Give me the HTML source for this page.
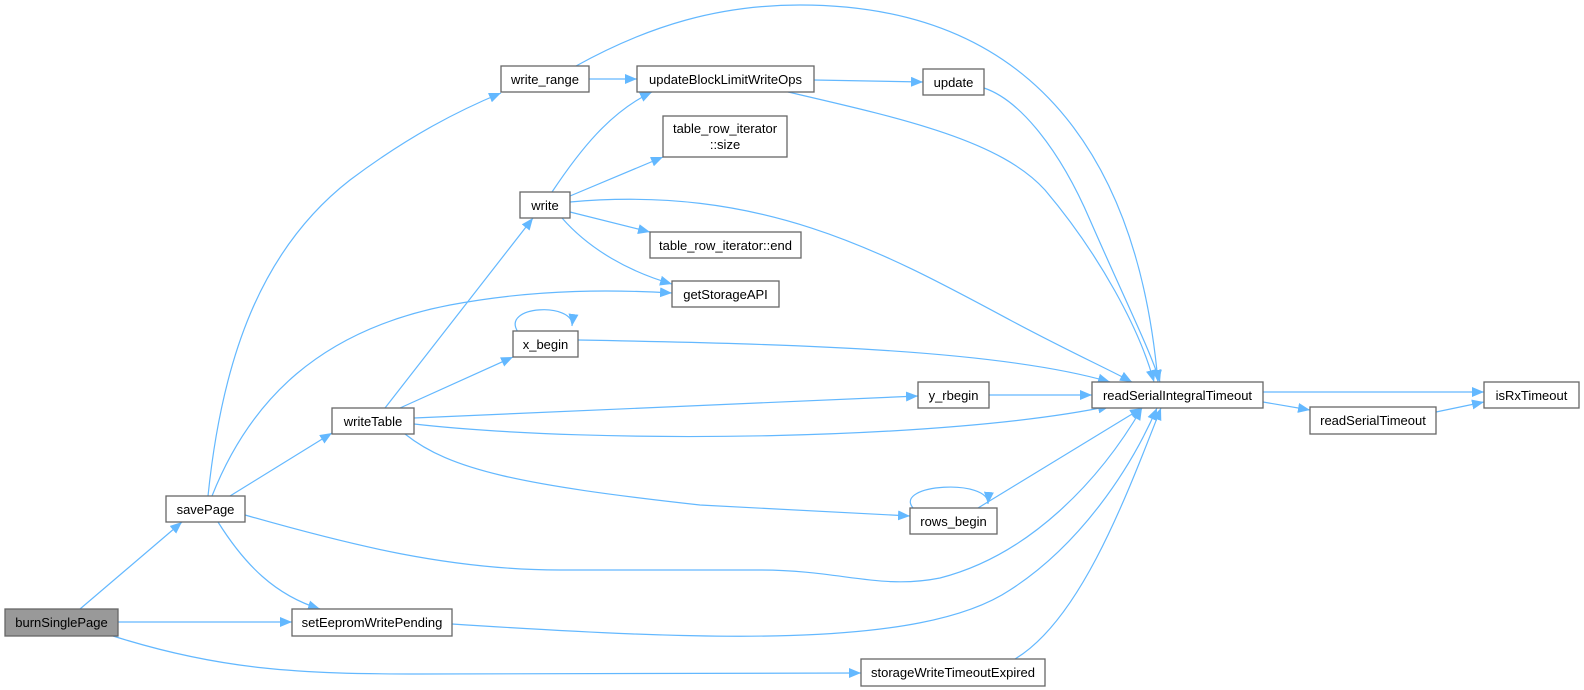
<!DOCTYPE html>
<html><head><meta charset="utf-8"><style>
html,body{margin:0;padding:0;background:#fff;}
svg{display:block;}
text{font-family:"Liberation Sans",Arial,sans-serif;font-size:13px;fill:#000;}
.n{fill:#fff;stroke:#666;stroke-width:1.3;}
.e{fill:none;stroke:#63b8ff;stroke-width:1.2;marker-end:url(#a);}
</style></head><body>
<svg width="1584" height="690" viewBox="0 0 1584 690" xmlns="http://www.w3.org/2000/svg">
<defs><marker id="a" markerUnits="userSpaceOnUse" markerWidth="14" markerHeight="12" refX="12" refY="5" orient="auto"><path d="M0,0 L12,5 L0,10 z" fill="#63b8ff"/></marker></defs>
<g>
<path class="e" d="M80,609 L182,522"/>
<path class="e" d="M118,622 L292,622"/>
<path class="e" d="M113,636 C220,670 300,674 420,674 L861,673"/>
<path class="e" d="M208,496 C222,360 260,250 350,180 C410,135 460,110 501,93"/>
<path class="e" d="M212,496 C250,400 320,330 450,305 C540,288 620,290 672,293"/>
<path class="e" d="M230,496 L332,433"/>
<path class="e" d="M245,515 C350,545 450,570 560,570 L760,570 C840,570 880,590 940,578 C1030,555 1100,480 1142,408"/>
<path class="e" d="M218,522 C245,565 275,595 320,609"/>
<path class="e" d="M385,408 L533,218"/>
<path class="e" d="M400,408 L513,357"/>
<path class="e" d="M414,418 L918,396"/>
<path class="e" d="M414,424 C600,445 950,440 1110,406"/>
<path class="e" d="M405,434 C450,470 520,485 700,505 L910,516"/>
<path class="e" d="M552,192 C580,150 610,112 652,92"/>
<path class="e" d="M570,196 L663,157"/>
<path class="e" d="M570,202 C760,185 880,250 1010,320 C1070,352 1110,370 1132,382"/>
<path class="e" d="M570,212 L650,232"/>
<path class="e" d="M562,218 C590,250 630,272 672,284"/>
<path class="e" d="M589,79 L637,79"/>
<path class="e" d="M576,66 C650,25 720,5 800,5 C1050,5 1140,180 1158,382"/>
<path class="e" d="M814,80 L923,82"/>
<path class="e" d="M788,92 C900,118 1000,140 1045,190 C1100,255 1140,330 1154,382"/>
<path class="e" d="M984,88 C1020,100 1060,150 1090,220 C1125,300 1150,350 1160,382"/>
<path class="e" d="M578,340 C800,344 1000,350 1110,382"/>
<path class="e" d="M518,332 C500,305 575,302 572,326"/>
<path class="e" d="M989,395 L1092,395"/>
<path class="e" d="M978,508 L1142,408"/>
<path class="e" d="M913,508 C893,484 990,478 988,504"/>
<path class="e" d="M1263,392 L1484,392"/>
<path class="e" d="M1263,402 L1310,410"/>
<path class="e" d="M1436,412 L1484,402"/>
<path class="e" d="M452,624 C700,640 920,650 1010,590 C1080,545 1130,470 1157,408"/>
<path class="e" d="M1015,659 C1080,620 1125,500 1161,408"/>
</g>
<g>
<rect x="5" y="609" width="113" height="27" fill="#999" stroke="#666" stroke-width="1.3"/>
<text x="61.5" y="627" text-anchor="middle">burnSinglePage</text>
<rect class="n" x="166" y="496" width="79" height="26"/><text x="205.5" y="514" text-anchor="middle">savePage</text>
<rect class="n" x="332" y="408" width="82" height="26"/><text x="373" y="426" text-anchor="middle">writeTable</text>
<rect class="n" x="501" y="66" width="88" height="26"/><text x="545" y="84" text-anchor="middle">write_range</text>
<rect class="n" x="520" y="192" width="50" height="26"/><text x="545" y="210" text-anchor="middle">write</text>
<rect class="n" x="513" y="331" width="65" height="26"/><text x="545.5" y="349" text-anchor="middle">x_begin</text>
<rect class="n" x="637" y="66" width="177" height="26"/><text x="725.5" y="84" text-anchor="middle">updateBlockLimitWriteOps</text>
<rect class="n" x="663" y="116" width="124" height="41"/><text x="725" y="133" text-anchor="middle">table_row_iterator</text><text x="725" y="149" text-anchor="middle">::size</text>
<rect class="n" x="650" y="232" width="151" height="26"/><text x="725.5" y="250" text-anchor="middle">table_row_iterator::end</text>
<rect class="n" x="672" y="281" width="107" height="26"/><text x="725.5" y="299" text-anchor="middle">getStorageAPI</text>
<rect class="n" x="923" y="69" width="61" height="26"/><text x="953.5" y="87" text-anchor="middle">update</text>
<rect class="n" x="918" y="382" width="71" height="26"/><text x="953.5" y="400" text-anchor="middle">y_rbegin</text>
<rect class="n" x="910" y="508" width="87" height="26"/><text x="953.5" y="526" text-anchor="middle">rows_begin</text>
<rect class="n" x="1092" y="382" width="171" height="26"/><text x="1177.5" y="400" text-anchor="middle">readSerialIntegralTimeout</text>
<rect class="n" x="1310" y="407" width="126" height="27"/><text x="1373" y="425" text-anchor="middle">readSerialTimeout</text>
<rect class="n" x="1484" y="382" width="95" height="26"/><text x="1531.5" y="400" text-anchor="middle">isRxTimeout</text>
<rect class="n" x="292" y="609" width="160" height="27"/><text x="372" y="627" text-anchor="middle">setEepromWritePending</text>
<rect class="n" x="861" y="659" width="184" height="27"/><text x="953" y="677" text-anchor="middle">storageWriteTimeoutExpired</text>
</g>
</svg>
</body></html>
